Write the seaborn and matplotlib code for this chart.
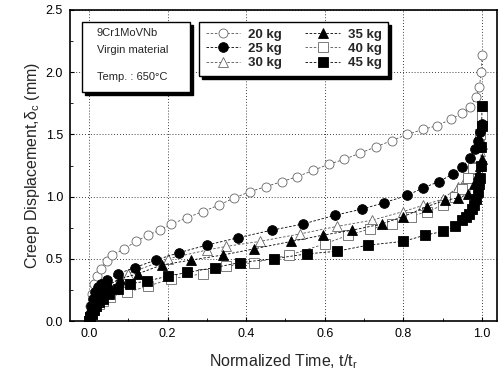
import matplotlib
matplotlib.use("Agg")
import matplotlib.pyplot as plt
import seaborn as sns
import numpy as np
import pandas as pd
from matplotlib.patches import Rectangle
from matplotlib.ticker import MultipleLocator

labels = ["20 kg", "25 kg", "30 kg", "35 kg", "40 kg", "45 kg"]

t20 = [0, 0.004, 0.008, 0.013, 0.02, 0.03, 0.045, 0.06, 0.09, 0.12, 0.15, 0.18, 0.21, 0.25, 0.29, 0.33,
       0.37, 0.41, 0.45, 0.49, 0.53, 0.57, 0.61, 0.65, 0.69, 0.73, 0.77, 0.81, 0.85, 0.885, 0.92, 0.95,
       0.97, 0.985, 0.993, 0.998, 1.0]
v20 = [0, 0.12, 0.22, 0.30, 0.36, 0.42, 0.48, 0.53, 0.58, 0.64, 0.69, 0.73, 0.78, 0.83, 0.88, 0.93,
       0.99, 1.04, 1.08, 1.12, 1.16, 1.21, 1.26, 1.30, 1.35, 1.40, 1.45, 1.50, 1.54, 1.57, 1.62, 1.67,
       1.72, 1.80, 1.88, 2.00, 2.14]

t25 = [0, 0.003, 0.006, 0.01, 0.015, 0.022, 0.03, 0.045, 0.075, 0.117, 0.17, 0.23, 0.30, 0.38, 0.465,
       0.545, 0.626, 0.695, 0.75, 0.81, 0.85, 0.89, 0.925, 0.95, 0.97, 0.982, 0.99, 0.996, 1.0]
v25 = [0, 0.06, 0.12, 0.18, 0.23, 0.27, 0.30, 0.33, 0.38, 0.43, 0.49, 0.55, 0.61, 0.67, 0.73,
       0.78, 0.85, 0.90, 0.95, 1.01, 1.07, 1.12, 1.18, 1.24, 1.31, 1.38, 1.45, 1.52, 1.58]

t30 = [0, 0.003, 0.007, 0.012, 0.018, 0.026, 0.036, 0.05, 0.1, 0.2, 0.3, 0.35, 0.435, 0.537, 0.63,
       0.72, 0.8, 0.85, 0.9, 0.94, 0.96, 0.975, 0.987, 0.995, 1.0]
v30 = [0, 0.05, 0.10, 0.15, 0.19, 0.23, 0.26, 0.29, 0.38, 0.50, 0.57, 0.60, 0.64, 0.70, 0.76,
       0.81, 0.88, 0.93, 0.98, 1.08, 1.15, 1.22, 1.30, 1.37, 1.42]

t35 = [0, 0.003, 0.007, 0.012, 0.018, 0.026, 0.036, 0.05, 0.08, 0.125, 0.185, 0.26, 0.34, 0.42, 0.515,
       0.595, 0.67, 0.745, 0.80, 0.86, 0.905, 0.94, 0.965, 0.98, 0.99, 0.996, 1.0]
v35 = [0, 0.05, 0.10, 0.14, 0.18, 0.22, 0.26, 0.29, 0.34, 0.38, 0.45, 0.49, 0.53, 0.58, 0.64,
       0.69, 0.73, 0.78, 0.84, 0.92, 0.97, 0.99, 1.02, 1.10, 1.18, 1.25, 1.30]

t40 = [0, 0.003, 0.007, 0.012, 0.018, 0.026, 0.036, 0.053, 0.097, 0.15, 0.21, 0.29, 0.35, 0.42, 0.51,
       0.60, 0.66, 0.715, 0.77, 0.82, 0.86, 0.90, 0.93, 0.95, 0.965, 0.978, 0.986, 0.992, 0.996, 0.999, 1.0]
v40 = [0, 0.03, 0.06, 0.09, 0.12, 0.14, 0.16, 0.19, 0.23, 0.28, 0.34, 0.38, 0.44, 0.47, 0.53,
       0.62, 0.69, 0.74, 0.78, 0.84, 0.88, 0.93, 1.00, 1.06, 1.15, 1.23, 1.32, 1.42, 1.50, 1.58, 1.65]

t45 = [0, 0.003, 0.007, 0.012, 0.018, 0.026, 0.036, 0.05, 0.074, 0.104, 0.147, 0.2, 0.25, 0.32, 0.385,
       0.47, 0.555, 0.63, 0.71, 0.80, 0.855, 0.90, 0.93, 0.95, 0.96, 0.967, 0.974, 0.98, 0.985, 0.99,
       0.993, 0.995, 0.997, 0.998, 0.999, 1.0]
v45 = [0, 0.03, 0.06, 0.09, 0.12, 0.15, 0.18, 0.22, 0.26, 0.30, 0.32, 0.36, 0.39, 0.43, 0.47,
       0.50, 0.54, 0.56, 0.61, 0.64, 0.69, 0.72, 0.76, 0.81, 0.84, 0.86, 0.90, 0.93, 0.98, 1.04,
       1.10, 1.15, 1.25, 1.40, 1.57, 1.73]

series_t = [t20, t25, t30, t35, t40, t45]
series_v = [v20, v25, v30, v35, v40, v45]
markers = ["o", "o", "^", "^", "s", "s"]
filled = [False, True, False, True, False, True]

sns.set_theme(style="ticks")
plt.rcParams['font.family'] = ['Liberation Sans', 'DejaVu Sans']

fig = plt.figure(figsize=(5.03, 3.77), dpi=100)
ax = fig.add_axes([70 / 503, 1 - 321 / 377, 427 / 503, 311 / 377])

for lab, tt, vv, mk, fl in zip(labels, series_t, series_v, markers, filled):
    df = pd.DataFrame({"t": tt, "v": vv})
    sns.lineplot(data=df, x="t", y="v", ax=ax, sort=False, estimator=None,
                 color="black" if fl else "#555555", lw=0.6, linestyle=(0, (3, 2)),
                 marker=mk, markersize=7 if mk != "o" or fl else 6.5,
                 markerfacecolor="black" if fl else "white",
                 markeredgecolor="black" if fl else "#666666",
                 markeredgewidth=0.6, label=lab, zorder=3 if fl else 2)

ax.set_xlim(-0.048, 1.038)
ax.set_ylim(0, 2.5)
ax.xaxis.set_major_locator(MultipleLocator(0.2))
ax.yaxis.set_major_locator(MultipleLocator(0.5))
ax.xaxis.set_minor_locator(MultipleLocator(0.1))
ax.yaxis.set_minor_locator(MultipleLocator(0.25))
ax.xaxis.set_major_formatter(matplotlib.ticker.FormatStrFormatter("%.1f"))
ax.yaxis.set_major_formatter(matplotlib.ticker.FormatStrFormatter("%.1f"))
ax.tick_params(which="both", direction="in", labelsize=9, colors="black", pad=5)
ax.tick_params(which="major", length=3, width=0.8)
ax.tick_params(which="minor", length=2, width=0.6)
ax.grid(True, which="major", linestyle=(0, (1, 2.5)), color="black", lw=0.6)
for s in ax.spines.values():
    s.set_linewidth(1.2)
    s.set_color("black")

ax.set_xlabel(r"Normalized Time, t/t$_\mathregular{r}$", fontsize=11.5, labelpad=9)
ax.set_ylabel(r"Creep Displacement,$\mathregular{\delta_c}$ (mm)", fontsize=11.5, labelpad=3)

# text box with shadow
bx0, by0 = (82 - 70) / 427, 1 - (92 - 10) / 311
bw, bh = (190 - 82) / 427, (92 - 22) / 311
ax.add_patch(Rectangle((bx0 + 0.006, by0 - 0.009), bw, bh, transform=ax.transAxes,
                       facecolor="black", edgecolor="black", zorder=5))
ax.add_patch(Rectangle((bx0, by0), bw, bh, transform=ax.transAxes,
                       facecolor="white", edgecolor="black", lw=1.0, zorder=6))
ax.text(bx0 + 0.035, 1 - (33 - 10) / 311, "9Cr1MoVNb", transform=ax.transAxes,
        fontsize=8, va="center", ha="left", zorder=7)
ax.text(bx0 + 0.035, 1 - (50 - 10) / 311, "Virgin material", transform=ax.transAxes,
        fontsize=8, va="center", ha="left", zorder=7)
ax.text(bx0 + 0.035, 1 - (77 - 10) / 311, "Temp. : 650°C", transform=ax.transAxes,
        fontsize=8, va="center", ha="left", zorder=7)

handles, labs = ax.get_legend_handles_labels()
leg = ax.legend(handles, labs, ncol=2, loc="upper left",
                bbox_to_anchor=((199 - 70) / 427, 1 - (22 - 10) / 311),
                frameon=True, fancybox=False, shadow={"color": "black", "alpha": 1.0},
                prop={"size": 9.5, "weight": "bold"},
                handlelength=2.6, handletextpad=0.6, columnspacing=1.8,
                labelspacing=0.15, borderpad=0.5, borderaxespad=0)
leg.get_frame().set_edgecolor("black")
leg.get_frame().set_linewidth(1.0)
leg.set_zorder(8)

fig.savefig("out.png", dpi=100)
